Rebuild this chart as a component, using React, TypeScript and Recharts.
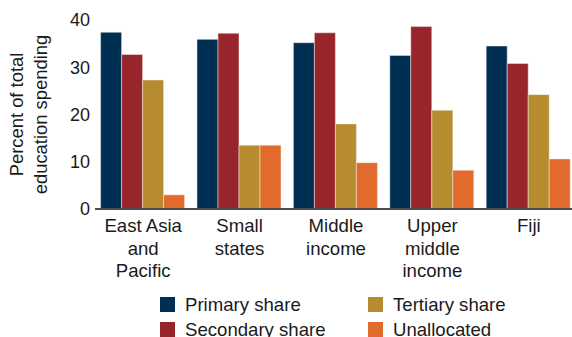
import { Bar, BarChart, XAxis, YAxis } from "recharts";

const categories = ["East Asia\nand\nPacific", "Small\nstates", "Middle\nincome", "Upper\nmiddle\nincome", "Fiji"];
const primaryShare = [37.4, 35.9, 35.2, 32.5, 34.5];
const secondaryShare = [32.7, 37.2, 37.3, 38.6, 30.8];
const tertiaryShare = [27.3, 13.5, 18.0, 20.9, 24.2];
const unallocated = [3.0, 13.5, 9.8, 8.2, 10.6];
const yTicks = [0, 10, 20, 30, 40];

const SERIES = [
  { key: "primary", name: "Primary share", color: "#002F54" },
  { key: "secondary", name: "Secondary share", color: "#98252C" },
  { key: "tertiary", name: "Tertiary share", color: "#B78B2F" },
  { key: "unallocated", name: "Unallocated", color: "#E06B2C" },
];

const rows = categories.map((c, i) => ({
  category: c,
  primary: primaryShare[i],
  secondary: secondaryShare[i],
  tertiary: tertiaryShare[i],
  unallocated: unallocated[i],
}));

const FONT = "'Liberation Sans', Arial, Helvetica, sans-serif";
const textColor = "#1a1a1a";

function CategoryTick({ x, y, payload }: any) {
  const lines = String(payload.value).split("\n");
  return (
    <text x={x} y={y} textAnchor="middle" fill={textColor} fontSize={18.6} fontFamily={FONT}>
      {lines.map((line, i) => (
        <tspan key={i} x={x} dy={i === 0 ? 21 : 22.5}>
          {line}
        </tspan>
      ))}
    </text>
  );
}

function YLabel({ viewBox }: any) {
  const cy = viewBox.y + viewBox.height / 2;
  return (
    <text
      transform={`translate(0, ${cy}) rotate(-90)`}
      textAnchor="middle"
      fill={textColor}
      fontSize={18.4}
      fontFamily={FONT}
    >
      <tspan x={0} y={23}>Percent of total</tspan>
      <tspan x={0} y={46.5}>education spending</tspan>
    </text>
  );
}

function LegendBox() {
  return (
    <div
      style={{
        position: "absolute",
        left: 160,
        top: 292,
        display: "grid",
        gridTemplateColumns: "208px 200px",
        gridTemplateRows: "25px 25px",
        gridAutoFlow: "column",
        fontFamily: FONT,
        fontSize: 18.6,
        color: textColor,
      }}
    >
      {SERIES.map((s) => (
        <div key={s.key} style={{ display: "flex", alignItems: "center", whiteSpace: "nowrap" }}>
          <span style={{ width: 15, height: 15, background: s.color, marginRight: 10, flex: "none" }} />
          <span>{s.name}</span>
        </div>
      ))}
    </div>
  );
}

export default function App() {
  return (
    <div style={{ position: "absolute", left: 0, top: 0, width: 572, height: 337, overflow: "hidden", background: "#fff" }}>
      <BarChart
        width={577}
        height={337}
        data={rows}
        margin={{ top: 20, right: 0, left: 0, bottom: 48 }}
        barCategoryGap="5.8%"
        barGap={0}
      >
        <XAxis
          dataKey="category"
          tick={<CategoryTick />}
          tickLine={false}
          tickSize={0}
          interval={0}
          axisLine={{ stroke: "#4d4d4d", strokeWidth: 2 }}
          height={80}
        />
        <YAxis
          domain={[0, 40]}
          ticks={yTicks}
          width={95}
          axisLine={false}
          tickLine={false}
          tickSize={3}
          tickMargin={2}
          tick={{ fontSize: 18, fill: textColor, fontFamily: FONT }}
          label={<YLabel />}
        />
        {SERIES.map((s) => (
          <Bar
            key={s.key}
            dataKey={s.key}
            name={s.name}
            fill={s.color}
            stroke="#f3efe8"
            strokeWidth={0.5}
            isAnimationActive={false}
          />
        ))}
      </BarChart>
      <LegendBox />
    </div>
  );
}
